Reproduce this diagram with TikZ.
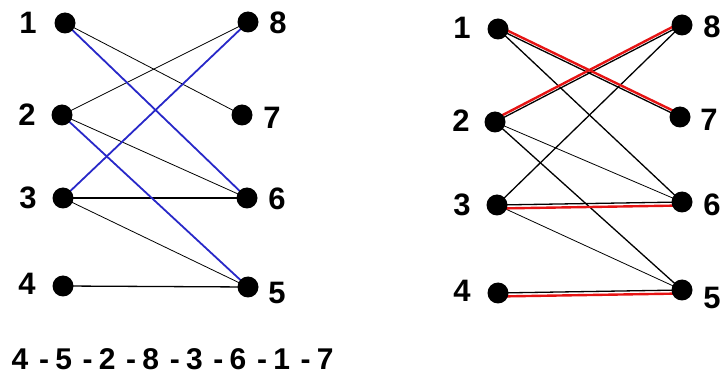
\documentclass[tikz,border=0pt]{standalone}
\usepackage{fontspec}
\setmainfont{Liberation Sans}
\usetikzlibrary{backgrounds}
\definecolor{matchblue}{RGB}{40,40,200}
\definecolor{matchred}{RGB}{230,20,20}
\begin{document}
\begin{tikzpicture}[x=1pt,y=-1pt,
  dot/.style={circle,fill=black,inner sep=0pt,minimum size=21pt},
  lbl/.style={font=\fontsize{31}{33}\selectfont\bfseries,inner sep=0pt},
  seq/.style={font=\fontsize{30}{32}\selectfont\bfseries,inner sep=0pt,anchor=base},
  thinedge/.style={black,line width=0.8pt},
  edge/.style={black,line width=1.3pt},
  blueedge/.style={matchblue,line width=1.8pt},
  rededge/.style={matchred,line width=2.4pt}]
\useasboundingbox (0,0) rectangle (724,377);
% left graph
\node[dot] (L1) at (65,23) {};
\node[dot] (L2) at (62,115) {};
\node[dot] (L3) at (63,198) {};
\node[dot] (L4) at (63,286) {};
\node[dot] (L8) at (248,22) {};
\node[dot] (L7) at (242,115) {};
\node[dot] (L6) at (247,198) {};
\node[dot] (L5) at (248,287) {};
\node[lbl] (l1) at (28,23) {1};
\node[lbl] (l2) at (27,115) {2};
\node[lbl] (l3) at (28,198) {3};
\node[lbl] (l4) at (27,284) {4};
\node[lbl] (l8) at (278,23) {8};
\node[lbl] (l7) at (272,118) {7};
\node[lbl] (l6) at (277,199) {6};
\node[lbl] (l5) at (277,293) {5};
\begin{scope}[on background layer]
\draw[thinedge] (L1.center) -- (L7.center);
\draw[thinedge] (L2.center) -- (L8.center);
\draw[thinedge] (L2.center) -- (L6.center);
\draw[edge] (L3.center) -- (L6.center);
\draw[thinedge] (L3.center) -- (L5.center);
\draw[edge] (L4.center) -- (L5.center);
\draw[blueedge] (L1.center) -- (L6.center);
\draw[blueedge] (L2.center) -- (L5.center);
\draw[blueedge] (L3.center) -- (L8.center);
\end{scope}
% right graph
\node[dot] (R1) at (498,29) {};
\node[dot] (R2) at (495,122) {};
\node[dot] (R3) at (497,205) {};
\node[dot] (R4) at (498,293) {};
\node[dot] (R8) at (682,25) {};
\node[dot] (R7) at (680,117) {};
\node[dot] (R6) at (682,202) {};
\node[dot] (R5) at (682,290) {};
\node[lbl] (r1) at (462,28) {1};
\node[lbl] (r2) at (461,121) {2};
\node[lbl] (r3) at (462,205) {3};
\node[lbl] (r4) at (462,291) {4};
\node[lbl] (r8) at (712,27) {8};
\node[lbl] (r7) at (709,120) {7};
\node[lbl] (r6) at (712,205) {6};
\node[lbl] (r5) at (712,298) {5};
\begin{scope}[on background layer]
\draw[edge] (R1.center) -- (R7.center);
\draw[edge] (R1.center) -- (R6.center);
\draw[edge] (R2.center) -- (R8.center);
\draw[thinedge] (R2.center) -- (R6.center);
\draw[edge] (R2.center) -- (R5.center);
\draw[edge] (R3.center) -- (R8.center);
\draw[edge] (R3.center) -- (R6.center);
\draw[thinedge] (R3.center) -- (R5.center);
\draw[edge] (R4.center) -- (R5.center);
\draw[rededge] ([yshift=3pt]R1.center) -- ([yshift=3pt]R7.center);
\draw[rededge] ([yshift=3pt]R2.center) -- ([yshift=3pt]R8.center);
\draw[rededge] ([yshift=-3.5pt]R3.center) -- ([yshift=-3.5pt]R6.center);
\draw[rededge] ([yshift=-3.5pt]R4.center) -- ([yshift=-3.5pt]R5.center);
\end{scope}
% sequence
\foreach \d [count=\i from 0] in {4,5,2,8,3,6,1,7} {
  \node[seq] (s\i) at (20+43.6*\i,370) {\d};
}
\foreach \i in {0,...,6} {
  \node[seq] (h\i) at (20+43.6*\i+24,370) {-};
}
\end{tikzpicture}
\end{document}
